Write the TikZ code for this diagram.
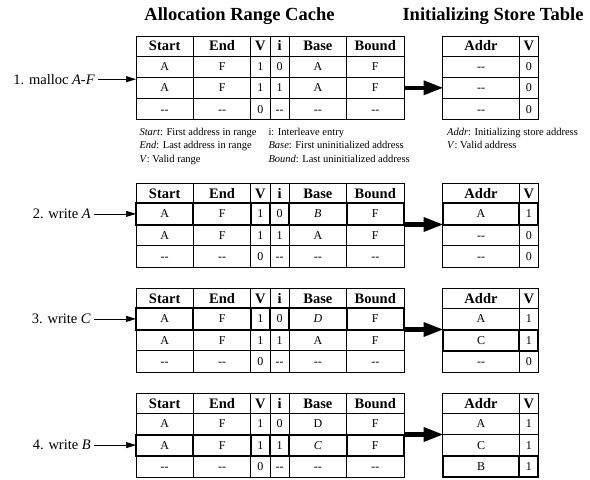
\documentclass[tikz,border=0pt]{standalone}
\usepackage{fontspec}
\setmainfont{Liberation Serif}
\usetikzlibrary{positioning,arrows.meta}

\tikzstyle{cell} = [rectangle, draw, line width=0.7pt, inner sep=0pt, outer sep=0pt,
    minimum height=21.2pt, text height=8pt, text depth=0pt, font=\fontsize{12}{13}\selectfont]
\tikzstyle{head} = [cell, minimum height=20pt, text height=9.5pt,
    font=\fontsize{14.5}{16}\selectfont\bfseries]
\tikzstyle{hot} = [line width=2pt]
\tikzstyle{lab} = [inner sep=0pt, font=\fontsize{14.5}{16}\selectfont]
\tikzstyle{note} = [inner sep=0pt, anchor=north west, align=left,
    font=\fontsize{10.5}{13.3}\selectfont]
\tikzstyle{title} = [anchor=base, font=\fontsize{18.5}{20}\selectfont\bfseries]
\tikzstyle{feed} = [line width=0.7pt, -{Triangle[length=10pt,width=6pt]}, shorten <=3pt]
\tikzstyle{move} = [line width=4.5pt, -{Triangle[length=19pt,width=15pt,line width=0pt]}]

% one row of the range cache: placement, name, style, six cells
\newcommand{\rcrow}[9]{%
  \node[cell,#3,minimum width=57.4pt,#1] (#2a) {#4};
  \node[cell,#3,minimum width=57.4pt,right=0pt of #2a] (#2b) {#5};
  \node[cell,#3,minimum width=19.2pt,right=0pt of #2b] (#2c) {#6};
  \node[cell,#3,minimum width=19.2pt,right=0pt of #2c] (#2d) {#7};
  \node[cell,#3,minimum width=57.4pt,right=0pt of #2d] (#2e) {#8};
  \node[cell,#3,minimum width=57.4pt,right=0pt of #2e] (#2f) {#9};}
% one row of the store table
\newcommand{\istrow}[5]{%
  \node[cell,#3,minimum width=76.6pt,#1] (#2a) {#4};
  \node[cell,#3,minimum width=19pt,right=0pt of #2a] (#2b) {#5};}
\newcommand{\nd}{-{}-}

\begin{document}
\begin{tikzpicture}[x=1pt,y=-1pt]
  \useasboundingbox (0,0) rectangle (590,480);

  \node[title] (arc) at (239.5,20.7) {Allocation Range Cache};
  \node[title] (ist) at (493,20.7) {Initializing Store Table};

  % 1. malloc
  \rcrow{anchor=north west,at={(136,36)}}{g1c0}{head}{Start}{End}{V}{i}{Base}{Bound}
  \rcrow{below=0pt of g1c0a}{g1c1}{}{A}{F}{1}{0}{A}{F}
  \rcrow{below=0pt of g1c1a}{g1c2}{}{A}{F}{1}{1}{A}{F}
  \rcrow{below=0pt of g1c2a}{g1c3}{}{\nd}{\nd}{0}{\nd}{\nd}{\nd}
  \istrow{anchor=north west,at={(442.7,36)}}{g1s0}{head}{Addr}{V}
  \istrow{below=0pt of g1s0a}{g1s1}{}{\nd}{0}
  \istrow{below=0pt of g1s1a}{g1s2}{}{\nd}{0}
  \istrow{below=0pt of g1s2a}{g1s3}{}{\nd}{0}
  \node[lab, left=41pt of g1c1a.south west, yshift=-2pt] (l1) {1. malloc \textit{A-F}};
  \draw[feed] (l1) -- (l1 -| g1c0a.west);
  \draw[move] (g1c2f.east) -- (g1c2f.east -| g1s0a.west);

  \node[note] (k1) at (139.3,128) {\textit{Start}: First address in range\\
    \textit{End}: Last address in range\\ \textit{V}: Valid range};
  \node[note] (k2) at (268.3,128) {i: Interleave entry\\
    \textit{Base}: First uninitialized address\\ \textit{Bound}: Last uninitialized address};
  \node[note] (k3) at (447,128) {\textit{Addr}: Initializing store address\\
    \textit{V}: Valid address};

  % 2. write A
  \rcrow{anchor=north west,at={(136,183.3)}}{g2c0}{head}{Start}{End}{V}{i}{Base}{Bound}
  \rcrow{below=0pt of g2c0a}{g2c1}{hot}{A}{F}{1}{0}{\textit{B}}{F}
  \rcrow{below=0pt of g2c1a}{g2c2}{}{A}{F}{1}{1}{A}{F}
  \rcrow{below=0pt of g2c2a}{g2c3}{}{\nd}{\nd}{0}{\nd}{\nd}{\nd}
  \istrow{anchor=north west,at={(442.7,183.3)}}{g2s0}{head}{Addr}{V}
  \istrow{below=0pt of g2s0a}{g2s1}{hot}{A}{1}
  \istrow{below=0pt of g2s1a}{g2s2}{}{\nd}{0}
  \istrow{below=0pt of g2s2a}{g2s3}{}{\nd}{0}
  \node[lab, left=45pt of g2c1a] (l2) {2. write \textit{A}};
  \draw[feed] (l2) -- (l2 -| g2c0a.west);
  \draw[move] (g2c1f.south east) -- (g2c1f.south east -| g2s0a.west);

  % 3. write C
  \rcrow{anchor=north west,at={(136,288.3)}}{g3c0}{head}{Start}{End}{V}{i}{Base}{Bound}
  \rcrow{below=0pt of g3c0a}{g3c1}{hot}{A}{F}{1}{0}{\textit{D}}{F}
  \rcrow{below=0pt of g3c1a}{g3c2}{}{A}{F}{1}{1}{A}{F}
  \rcrow{below=0pt of g3c2a}{g3c3}{}{\nd}{\nd}{0}{\nd}{\nd}{\nd}
  \istrow{anchor=north west,at={(442.7,288.3)}}{g3s0}{head}{Addr}{V}
  \istrow{below=0pt of g3s0a}{g3s1}{}{A}{1}
  \istrow{below=0pt of g3s1a}{g3s2}{hot}{C}{1}
  \istrow{below=0pt of g3s2a}{g3s3}{}{\nd}{0}
  \node[lab, left=45pt of g3c1a] (l3) {3. write \textit{C}};
  \draw[feed] (l3) -- (l3 -| g3c0a.west);
  \draw[move] (g3c1f.south east) -- (g3c1f.south east -| g3s0a.west);

  % 4. write B
  \rcrow{anchor=north west,at={(136,393.3)}}{g4c0}{head}{Start}{End}{V}{i}{Base}{Bound}
  \rcrow{below=0pt of g4c0a}{g4c1}{}{A}{F}{1}{0}{D}{F}
  \rcrow{below=0pt of g4c1a}{g4c2}{hot}{A}{F}{1}{1}{\textit{C}}{F}
  \rcrow{below=0pt of g4c2a}{g4c3}{}{\nd}{\nd}{0}{\nd}{\nd}{\nd}
  \istrow{anchor=north west,at={(442.7,393.3)}}{g4s0}{head}{Addr}{V}
  \istrow{below=0pt of g4s0a}{g4s1}{}{A}{1}
  \istrow{below=0pt of g4s1a}{g4s2}{}{C}{1}
  \istrow{below=0pt of g4s2a}{g4s3}{hot}{B}{1}
  \node[lab, left=45pt of g4c2a] (l4) {4. write \textit{B}};
  \draw[feed] (l4) -- (l4 -| g4c0a.west);
  \draw[move] (g4c1f.south east) -- (g4c1f.south east -| g4s0a.west);
\end{tikzpicture}
\end{document}
